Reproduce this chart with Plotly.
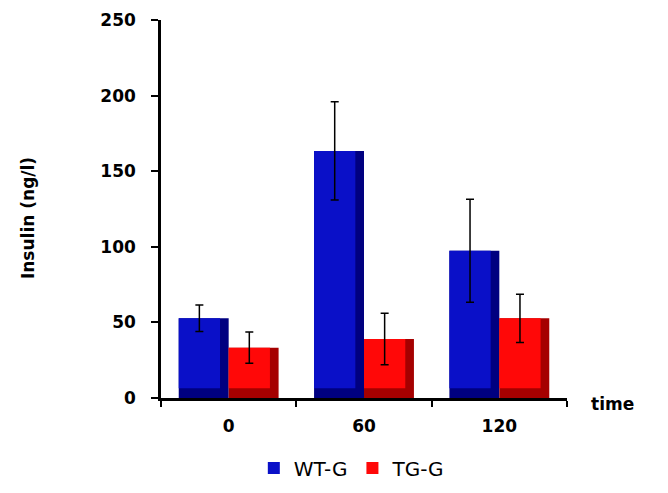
import plotly.graph_objects as go

categories = ["0", "60", "120"]
wt_values = [52.7, 163.4, 97.4]
wt_errors = [8.8, 32.5, 34.0]
tg_values = [33.3, 39.0, 52.7]
tg_errors = [10.3, 17.0, 16.0]
y_ticks = [0, 50, 100, 150, 200, 250]

BAR_W = 0.369
BEVEL_W = 0.064
BEVEL_Y = 6.5
FONT = "DejaVu Sans"

series = [
    ("WT-G", wt_values, wt_errors, "rgb(10,16,200)", "rgb(0,0,128)", -BAR_W),
    ("TG-G", tg_values, tg_errors, "rgb(255,8,8)", "rgb(165,0,0)", 0.0),
]

fig = go.Figure()
for name, vals, errs, bright, dark, off in series:
    fig.add_trace(go.Bar(
        x=categories, y=vals, width=BAR_W, offset=off,
        marker=dict(color=dark, line=dict(width=0)),
        showlegend=False, hoverinfo="skip",
    ))
    fig.add_trace(go.Bar(
        x=categories, y=[v - BEVEL_Y for v in vals], base=BEVEL_Y,
        width=BAR_W - BEVEL_W, offset=off,
        marker=dict(color=bright, line=dict(width=0)),
        name=name, showlegend=True,
        error_y=dict(type="data", array=errs, visible=True,
                     color="black", thickness=1.5, width=4),
    ))

fig.update_layout(
    width=668, height=493,
    margin=dict(l=161, r=101, t=20, b=95, autoexpand=False),
    paper_bgcolor="white", plot_bgcolor="white",
    barmode="overlay",
    font=dict(family=FONT, color="black"),
    showlegend=True,
    legend=dict(orientation="h", x=0.47, xanchor="center", y=-0.185, yanchor="middle",
                font=dict(family=FONT, size=20, color="black"),
                itemwidth=30, tracegroupgap=0),
    xaxis=dict(type="category", range=[-0.5, 2.5], showline=True, linecolor="black",
               linewidth=2.5, ticks="outside", tickson="boundaries", ticklen=6,
               tickwidth=2, tickcolor="black", showgrid=False, automargin=False,
               tickfont=dict(family=FONT, size=17, color="black", weight="bold"),
               ticklabelstandoff=11),
    yaxis=dict(range=[0, 250], tickvals=y_ticks, showline=True, linecolor="black",
               linewidth=2.5, ticks="outside", ticklen=7, tickwidth=2, tickcolor="black",
               showgrid=False, zeroline=False, automargin=False,
               tickfont=dict(family=FONT, size=17, color="black", weight="bold"),
               ticklabelstandoff=12),
    annotations=[
        dict(text="Insulin (ng/l)", xref="paper", yref="paper", x=-0.3276, y=0.476,
             xanchor="center", yanchor="middle", textangle=-90, showarrow=False,
             font=dict(family=FONT, size=17, color="black", weight="bold")),
        dict(text="time", xref="paper", yref="paper", x=1.055, y=-0.016,
             xanchor="left", yanchor="middle", showarrow=False,
             font=dict(family=FONT, size=17, color="black", weight="bold")),
    ],
)

fig.write_html("out.html")
